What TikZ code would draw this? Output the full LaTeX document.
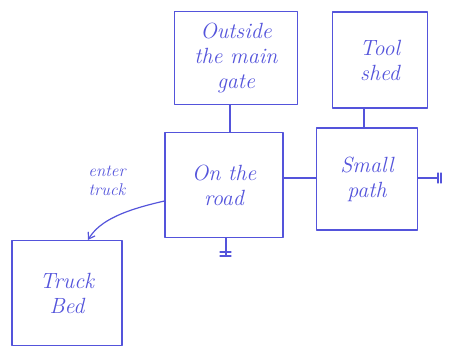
\documentclass[tikz,border=0pt]{standalone}
\usepackage{fontspec}
\setmainfont{Latin Modern Roman}
\usetikzlibrary{arrows.meta}
\definecolor{ink}{rgb}{0.33,0.33,0.86}
\begin{document}
\begin{tikzpicture}[x=1pt,y=-1pt,
  ink/.style={draw=ink,line width=1.2pt,line cap=round,line join=round},
  box/.style={ink,text=ink,align=center,inner sep=0pt,
    font=\fontsize{22}{25}\selectfont\itshape},
  lab/.style={text=ink,align=center,font=\fontsize{17}{19}\selectfont\itshape}]
\useasboundingbox (0,0) rectangle (449,356);
\node[box,minimum width=123pt,minimum height=93pt] (gate) at (236,58) {Outside\\the main\\gate};
\node[box,minimum width=95pt,minimum height=96pt] (shed) at (380,60) {Tool\\shed};
\node[box,minimum width=118pt,minimum height=105pt] (road) at (224,185) {On the\\road};
\node[box,minimum width=101pt,minimum height=102pt] (path) at (367,179) {Small\\path};
\node[box,minimum width=110pt,minimum height=105pt] (bed) at (67,293) {Truck\\Bed};
\coordinate (down) at (226,256);
\coordinate (right) at (438,178);
\draw[ink] (gate.south -| 230,0) -- (road.north -| 230,0);
\draw[ink] (shed.south -| 364,0) -- (path.north -| 364,0);
\draw[ink] (road.east |- 0,178) -- (path.west |- 0,178);
\draw[ink] (path.east |- 0,178) -- (right);
\draw[ink] ([yshift=-5pt]right) -- ([yshift=5pt]right);
\draw[ink] ([shift={(3pt,-5pt)}]right) -- ([shift={(3pt,5pt)}]right);
\draw[ink] (road.south -| 226,0) -- (down);
\draw[ink] ([shift={(-6pt,0pt)}]down) -- ([shift={(5pt,0pt)}]down);
\draw[ink] ([shift={(-6pt,4pt)}]down) -- ([shift={(5pt,4pt)}]down);
\draw[ink,-{Straight Barb[length=6pt,width=8pt]}] (road.west |- 0,201) .. controls (125,210) and (100,220) .. (bed.north -| 88,0);
\node[lab] (enter) at (107,181) {enter\\truck};
\end{tikzpicture}
\end{document}
